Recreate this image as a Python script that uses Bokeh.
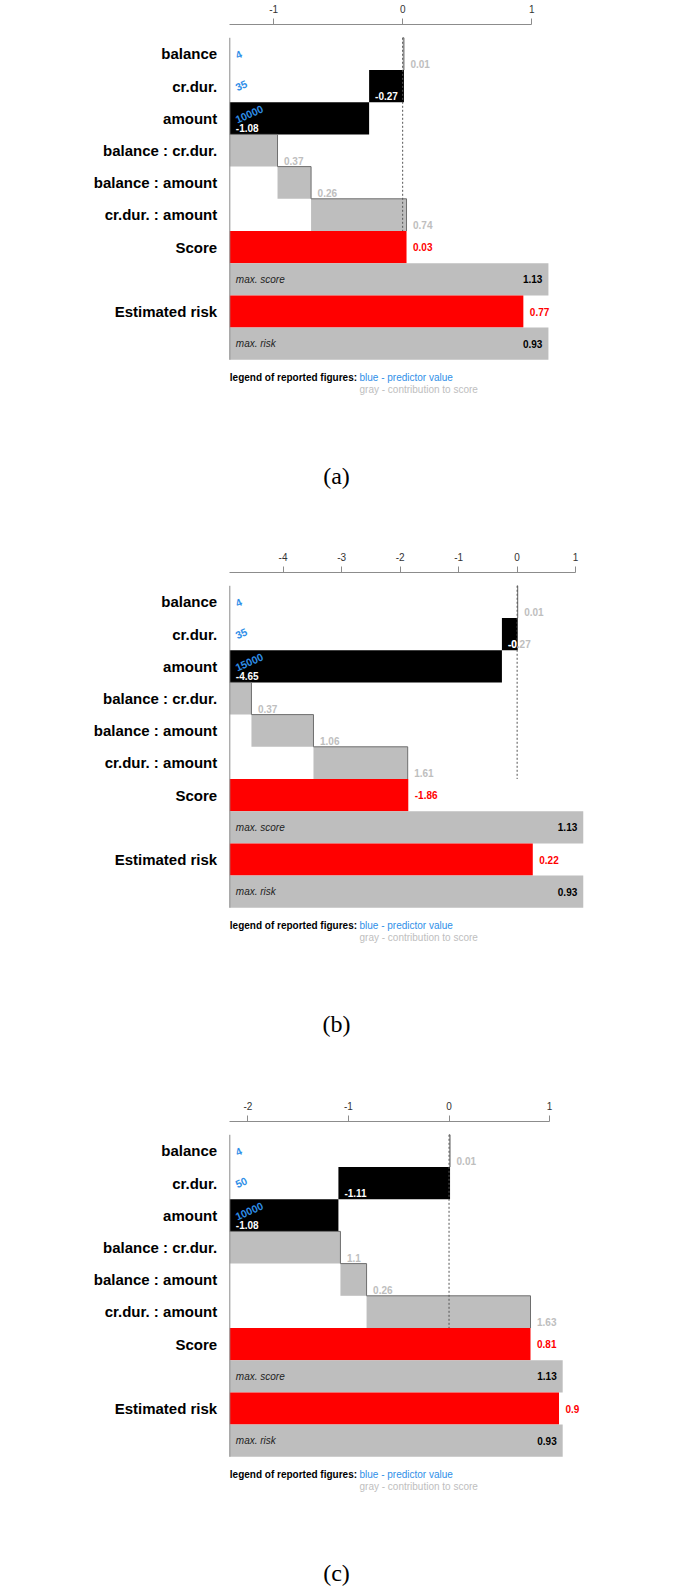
import numpy as np
from bokeh.plotting import figure
from bokeh.models import Range1d, FixedTicker
from bokeh.layouts import column
from bokeh.core.properties import value
from bokeh.embed import file_html
from bokeh.resources import INLINE

# ---------------- data ----------------
predictors = ["balance", "cr.dur.", "amount",
              "balance : cr.dur.", "balance : amount", "cr.dur. : amount"]
captions = ["(a)", "(b)", "(c)"]
predictor_values_a = ["4", "35", "10000"]
predictor_values_b = ["4", "35", "15000"]
predictor_values_c = ["4", "50", "10000"]
contrib_a = [0.01, -0.27, -1.08, 0.37, 0.26, 0.74]
contrib_b = [0.01, -0.27, -4.65, 0.37, 1.06, 1.61]
contrib_c = [0.01, -1.11, -1.08, 1.1, 0.26, 1.63]
scores = [0.03, -1.86, 0.81]
risks = [0.77, 0.22, 0.9]
max_score = 1.13
max_risk = 0.93
ticks_a = [-1, 0, 1]
ticks_b = [-4, -3, -2, -1, 0, 1]
ticks_c = [-2, -1, 0, 1]
tick_labels_a = ["-1", "0", "1"]
tick_labels_b = ["-4", "-3", "-2", "-1", "0", "1"]
tick_labels_c = ["-2", "-1", "0", "1"]

# ---------------- style / layout ----------------
SANS = "Liberation Sans"
SERIF = "Liberation Serif"
BLUE = "#2F8FE8"
LGRAY = "#BEBEBE"
BAR_GRAY = "#BEBEBE"
EDGE = "#6E6E6E"
RED = "#FF0000"
FIG_W = 686
ROW_H = 32.2
AXIS_TO_ROWS = 13.3
LEFT_PX = 229.3
CHAR_W = {"-": 0.333, ".": 0.278}


def fmt(v):
    return f"{v:g}"


def text_w(s, size=10.0):
    return sum(CHAR_W.get(ch, 0.556) for ch in s) * size


def make_panel(caption, pvals, contrib, sc, rk, ticks, tlabels, ppu, height, top):
    n = len(predictors)
    contrib = np.array(contrib, dtype=float)
    cum = np.concatenate([[0.0], np.cumsum(contrib)])
    before, after = cum[:-1], cum[1:]
    xmin = float(min(cum.min(), 0.0))
    x0 = xmin - LEFT_PX / ppu
    x1 = x0 + FIG_W / ppu
    frame_h = height - top

    p = figure(width=FIG_W, height=height,
               x_range=Range1d(x0, x1),
               y_range=Range1d((frame_h - AXIS_TO_ROWS) / ROW_H, -AXIS_TO_ROWS / ROW_H),
               x_axis_location="above", y_axis_location=None,
               toolbar_location=None, output_backend="svg",
               min_border_left=0, min_border_right=0, min_border_bottom=0,
               min_border_top=top, outline_line_color=None)
    p.grid.visible = False
    ax = p.xaxis[0]
    ax.ticker = FixedTicker(ticks=ticks, minor_ticks=[])
    ax.major_label_overrides = {float(t): l for t, l in zip(ticks, tlabels)}
    ax.bounds = (xmin, 1)
    ax.axis_line_color = "#8C8C8C"
    ax.major_tick_line_color = "#8C8C8C"
    ax.major_tick_out = 6
    ax.major_tick_in = 0
    ax.minor_tick_out = 0
    ax.minor_tick_in = 0
    ax.major_label_standoff = 6
    ax.major_label_text_font = SANS
    ax.major_label_text_font_size = "10px"
    ax.major_label_text_color = "#333333"

    idx = np.arange(n)
    neg = contrib < 0
    pos = ~neg

    # waterfall bars
    p.quad(left=after[neg], right=before[neg], top=idx[neg], bottom=idx[neg] + 1,
           fill_color="black", line_color=None)
    p.quad(left=before[pos], right=after[pos], top=idx[pos], bottom=idx[pos] + 1,
           fill_color=BAR_GRAY, line_color=None)
    p.segment(x0=before[pos], y0=idx[pos], x1=after[pos], y1=idx[pos],
              line_color=EDGE, line_width=1)
    p.segment(x0=after[pos], y0=idx[pos], x1=after[pos], y1=idx[pos] + 1,
              line_color=EDGE, line_width=1)

    # score / risk rows
    risk_end = max_score * rk / max_risk
    p.quad(left=[xmin] * 4, right=[sc, max_score, risk_end, max_score],
           top=[n, n + 1, n + 2, n + 3], bottom=[n + 1, n + 2, n + 3, n + 4],
           fill_color=[RED, BAR_GRAY, RED, BAR_GRAY], line_color=None)

    # zero line and left border
    p.segment(x0=[0], y0=[0], x1=[0], y1=[n], line_color="#555555",
              line_dash="2 2", line_width=1)
    p.segment(x0=[xmin], y0=[0], x1=[xmin], y1=[n + 4], line_color="#8A8A8A",
              line_width=1)

    # row labels
    labels = predictors + ["Score", "Estimated risk"]
    ly = list(idx + 0.5) + [n + 0.5, n + 2.5]
    p.text(x=[xmin] * len(labels), y=ly, text=labels, text_font=value(SANS),
           text_font_size="15px", text_font_style="bold", text_color="black",
           text_align="right", text_baseline="middle", x_offset=-12.6)

    # predictor values (blue, rotated)
    p.text(x=[xmin] * len(pvals), y=list(idx[:len(pvals)] + 0.55), text=pvals,
           text_font=value(SANS), text_font_size="10.5px", text_font_style="bold",
           text_color=BLUE, text_align="left", text_baseline="middle",
           angle=0.42, x_offset=6)

    # contribution labels
    lab_y = idx + 1 - 6.0 / ROW_H
    p.text(x=after[pos], y=lab_y[pos], text=[fmt(v) for v in contrib[pos]],
           text_font=value(SANS), text_font_size="10px", text_font_style="bold",
           text_color=LGRAY, text_align="left", text_baseline="middle", x_offset=6.5)
    for i in idx[neg]:
        s = fmt(contrib[i])
        bar_w = abs(contrib[i]) * ppu
        off = 6.0
        k = 0
        for ch in s:
            w = text_w(ch)
            if off + w / 2 < bar_w:
                k += 1
                off += w
            else:
                break
        if k < len(s):
            p.text(x=[after[i]], y=[lab_y[i]], text=[s], text_font=value(SANS),
                   text_font_size="10px", text_font_style="bold", text_color=LGRAY,
                   text_align="left", text_baseline="middle", x_offset=6)
        if k > 0:
            p.text(x=[after[i]], y=[lab_y[i]], text=[s[:k]], text_font=value(SANS),
                   text_font_size="10px", text_font_style="bold", text_color="white",
                   text_align="left", text_baseline="middle", x_offset=6)

    # score / risk value labels
    p.text(x=[sc, risk_end], y=[n + 0.5, n + 2.5], text=[fmt(sc), fmt(rk)],
           text_font=value(SANS), text_font_size="10px", text_font_style="bold",
           text_color=RED, text_align="left", text_baseline="middle", x_offset=6.5)
    p.text(x=[xmin, xmin], y=[n + 1.5, n + 3.5], text=["max. score", "max. risk"],
           text_font=value(SANS), text_font_size="10px", text_font_style="italic",
           text_color="#222222", text_align="left", text_baseline="middle", x_offset=6)
    p.text(x=[max_score, max_score], y=[n + 1.5, n + 3.5],
           text=[fmt(max_score), fmt(max_risk)],
           text_font=value(SANS), text_font_size="10px", text_font_style="bold",
           text_color="black", text_align="right", text_baseline="middle", x_offset=-6)

    # legend of reported figures
    y1 = 339.2 / ROW_H
    y2 = 351.2 / ROW_H
    p.text(x=[xmin], y=[y1], text=["legend of reported figures:"], text_font=value(SANS),
           text_font_size="10px", text_font_style="bold", text_color="black",
           text_align="left", text_baseline="middle")
    p.text(x=[xmin, xmin], y=[y1, y2],
           text=["blue - predictor value", "gray - contribution to score"],
           text_font=value(SANS), text_font_size="10px",
           text_color=[BLUE, LGRAY], text_align="left", text_baseline="middle",
           x_offset=129.7)

    # caption
    p.text(x=[x0 + 336.0 / ppu], y=[438.5 / ROW_H], text=[caption],
           text_font=value(SERIF), text_font_size="24px", text_color="black",
           text_align="center", text_baseline="middle")
    return p


pa = make_panel(captions[0], predictor_values_a, contrib_a, scores[0], risks[0],
                ticks_a, tick_labels_a, 129.0, 530, 24)
pb = make_panel(captions[1], predictor_values_b, contrib_b, scores[1], risks[1],
                ticks_b, tick_labels_b, 58.52, 548, 42)
pc = make_panel(captions[2], predictor_values_c, contrib_c, scores[2], risks[2],
                ticks_c, tick_labels_c, 100.57, 513, 43)

page = column(pa, pb, pc, spacing=0)
open("out.html", "w").write(file_html(page, INLINE))
